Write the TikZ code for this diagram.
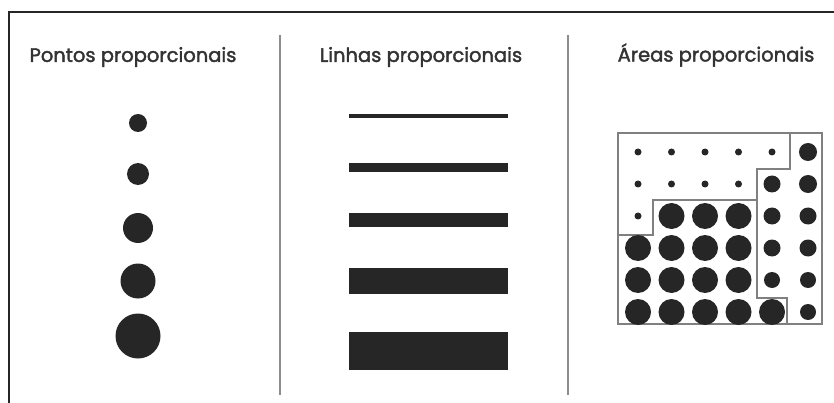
\documentclass[tikz,border=0pt]{standalone}
\usepackage{fontspec}
\setmainfont{Poppins}
\newfontfamily\titfont{Poppins}[FakeBold=2]
\usetikzlibrary{positioning}

\begin{document}
\begin{tikzpicture}[
    x=1pt, y=-1pt,
    titulo/.style={font=\titfont\fontsize{19.5}{22}\selectfont, text=black!80, inner sep=0pt},
    moldura/.style={draw=black!85, line width=2.5pt},
    divisor/.style={draw=black!45, line width=1.8pt},
    ponto/.style={circle, fill=black!85, inner sep=0pt, minimum size=#1},
    barra/.style={fill=black!85, inner sep=0pt, minimum width=159, minimum height=#1},
    grade/.style={draw=black!50, line width=1.5pt}
]
\useasboundingbox (0,0) rectangle (834,403);

% moldura e divisores
\draw [moldura] (9,403) -- (9,12) -- (834,12);
\draw [divisor] (280,35) -- (280,395);
\draw [divisor] (568,35) -- (568,395);

% titulos
\node [titulo] (pontos) at (133,57) {Pontos proporcionais};
\node [titulo] (linhas) at (421,57) {Linhas proporcionais};
\node [titulo] (areas) at (716,55) {Áreas proporcionais};

% pontos proporcionais
\node [ponto=18] (p1) at (138,123) {};
\node [ponto=22] (p2) at (138,174) {};
\node [ponto=30] (p3) at (138,228) {};
\node [ponto=35] (p4) at (138,281) {};
\node [ponto=45] (p5) at (138,336) {};

% linhas proporcionais
\node [barra=4] (l1) at (428.5,116) {};
\node [barra=9] (l2) at (428.5,167.5) {};
\node [barra=13] (l3) at (428.5,220) {};
\node [barra=26] (l4) at (428.5,281) {};
\node [barra=38] (l5) at (428.5,351) {};

% areas proporcionais
\draw [grade] (618,133) rectangle (822,324);
\draw [grade] (790,133) -- (790,169) -- (757,169) -- (757,298) -- (787,298) -- (787,324);
\draw [grade] (757,200) -- (653,200) -- (653,235) -- (618,235);
\foreach \l/\tam in {0/{7,7,7,7,7,18}, 1/{7,7,7,7,17,18}, 2/{7,26,26,26,17,17},
                     3/{26,26,26,26,17,17}, 4/{26,26,26,26,16,16}, 5/{26,26,26,26,26,16}} {
    \foreach \d [count=\c from 0] in \tam {
        \pgfmathsetmacro\xc{ifthenelse(\c==5,808,638+33.5*\c)}
        \node [ponto=\d] (a-\l-\c) at (\xc,152+32*\l) {};
    }
}

\end{tikzpicture}
\end{document}
